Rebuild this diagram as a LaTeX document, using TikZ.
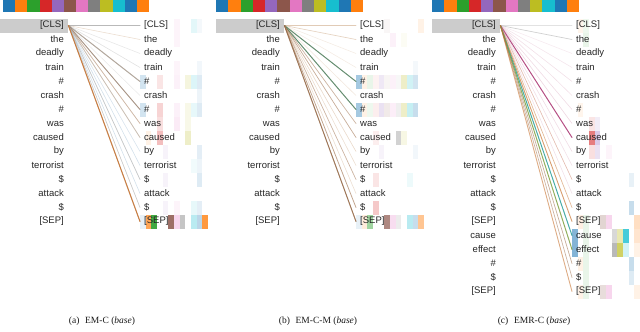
\documentclass[tikz,border=0pt]{standalone}
\usepackage{fontspec}
\setmainfont{Liberation Serif}
\setsansfont{Liberation Sans}
\definecolor{h0}{HTML}{1F77B4}
\definecolor{h1}{HTML}{FF7F0E}
\definecolor{h2}{HTML}{2CA02C}
\definecolor{h3}{HTML}{D62728}
\definecolor{h4}{HTML}{9467BD}
\definecolor{h5}{HTML}{8C564B}
\definecolor{h6}{HTML}{E377C2}
\definecolor{h7}{HTML}{7F7F7F}
\definecolor{h8}{HTML}{BCBD22}
\definecolor{h9}{HTML}{17BECF}
\definecolor{h10}{HTML}{1F77B4}
\definecolor{h11}{HTML}{FF7F0E}
\definecolor{lgray}{HTML}{8A8A8A}
\definecolor{ltan}{HTML}{C8A07A}
\definecolor{lbrown}{HTML}{9A6A45}
\definecolor{lorange}{HTML}{C87533}
\definecolor{lblue}{HTML}{8FB0CC}
\definecolor{lgreen}{HTML}{4E8060}
\definecolor{lpink}{HTML}{D49AB4}
\definecolor{lmag}{HTML}{A8306E}
\definecolor{lteal}{HTML}{2A9E98}
\definecolor{lolive}{HTML}{7FA040}
\tikzset{
  tokfont/.style={font=\sffamily\fontsize{9.5}{10}\selectfont, text=black!85},
  tokL/.style={tokfont, anchor=east, inner sep=0pt},
  tokR/.style={tokfont, anchor=west, inner xsep=4pt, inner ysep=0pt},
  hlbox/.style={fill=black!20, draw=none, minimum width=68pt, minimum height=14pt, inner sep=0pt, anchor=west},
  att/.style={line cap=round},
  headsq/.style={draw=none},
  capt/.style={font=\fontsize{9.5}{11}\selectfont, text=black!90}
}
\newcommand{\headbar}[1]{%
  \foreach \c in {0,...,11} \fill[fill=h\c] ({#1+12.25*\c},0) rectangle ++(12.25,12);}
\newcommand{\tokpanel}[2]{%
  \foreach \t [count=\i from 0] in {#2} {
    \node[tokL] (#1L\i) at (64,{25.5+14*\i}) {\t};
    \node[tokR] (#1R\i) at (140,{25.5+14*\i}) {\t};
  }}
\begin{document}
\begin{tikzpicture}[x=1pt,y=-1pt]
\useasboundingbox (0,0) rectangle (640,332);
% ---------------- panel (a)
\begin{scope}
  \foreach \c in {0,...,11} \fill[fill=h\c] ({3+12.17*\c},0) rectangle ++(12.17,12);
  \node[hlbox] (aH) at (0,25.5) {};
  \foreach \r/\c/\o in {0/6/.08,0/9/.12,0/10/.05,1/6/.08,3/6/.08,3/10/.06,
     4/0/.2,4/3/.12,4/6/.1,4/8/.15,4/9/.15,4/10/.15,5/10/.08,
     6/0/.2,6/3/.2,6/6/.1,6/8/.1,6/9/.1,6/10/.15,7/3/.15,7/6/.15,7/8/.1,
     8/1/.1,8/3/.3,8/8/.25,9/4/.08,9/10/.12,10/9/.06,10/10/.08,11/4/.08,11/10/.15,
     13/4/.08,13/6/.08,13/9/.1,13/10/.12,
     14/0/.1,14/1/.7,14/2/.9,14/5/.85,14/6/.3,14/7/.45,14/9/.3,14/10/.3,14/11/.8}
     \fill[fill=h\c, fill opacity=\o] ({140+5.67*\c},{18.5+14*\r}) rectangle ++(5.67,14);
  \tokpanel{a}{{[CLS]},the,deadly,train,\#,crash,\#,was,caused,by,terrorist,\$,attack,\$,{[SEP]}}
  \foreach \r/\col/\o/\w in {0/lgray/.6/1.0,1/ltan/.35/.6,2/lgray/.2/.6,3/lgray/.25/.6,
     4/lgray/.7/1.0,4/ltan/.4/.6,5/lgray/.2/.5,6/lgray/.6/.9,6/lbrown/.5/.7,
     7/lorange/.5/.7,7/lblue/.3/.6,8/ltan/.6/.8,8/lblue/.3/.6,9/lblue/.35/.6,
     10/lblue/.4/.6,11/lblue/.5/.7,11/ltan/.3/.6,12/lblue/.4/.6,13/lblue/.45/.6,
     13/ltan/.3/.6,14/lblue/.5/.6,14/lorange/.9/1.1}
     \draw[att, draw=\col, draw opacity=\o, line width=\w pt] (aH.east) -- (aR\r.west);
  \node[capt] (capa) at (102,321) {(a)\hspace{0.35em} EM-C (\textit{base})};
\end{scope}
% ---------------- panel (b)
\begin{scope}[xshift=216pt]
  \headbar{0}
  \node[hlbox] (bH) at (0,25.5) {};
  \foreach \r/\c/\o in {0/5/.05,0/11/.1,1/6/.1,1/8/.05,3/10/.05,
     4/0/.4,4/1/.1,4/2/.1,4/3/.06,4/4/.15,4/5/.06,4/6/.1,4/7/.06,4/8/.25,4/9/.2,4/10/.2,
     6/0/.4,6/1/.1,6/2/.08,6/3/.08,6/4/.2,6/5/.12,6/6/.12,6/7/.12,6/8/.25,6/9/.25,6/10/.25,
     8/3/.08,8/7/.35,8/8/.12,9/4/.08,9/10/.06,11/3/.12,11/9/.08,13/3/.25,
     14/0/.1,14/1/.15,14/2/.45,14/5/.7,14/6/.25,14/7/.15,14/9/.3,14/10/.25,14/11/.45}
     \fill[fill=h\c, fill opacity=\o] ({140+5.67*\c},{18.5+14*\r}) rectangle ++(5.67,14);
  \tokpanel{b}{{[CLS]},the,deadly,train,\#,crash,\#,was,caused,by,terrorist,\$,attack,\$,{[SEP]}}
  \foreach \r/\col/\o/\w in {0/ltan/.55/.9,1/ltan/.45/.7,2/ltan/.2/.6,3/ltan/.2/.6,
     4/ltan/.3/.6,4/lgreen/.85/1.0,5/ltan/.25/.6,6/ltan/.3/.6,6/lgreen/.85/1.0,
     7/lbrown/.5/.7,8/lbrown/.55/.7,9/ltan/.4/.6,10/ltan/.35/.6,11/lbrown/.5/.7,
     12/ltan/.35/.6,13/lbrown/.6/.8,14/lgray/.5/.7,14/lbrown/.85/1.0}
     \draw[att, draw=\col, draw opacity=\o, line width=\w pt] (bH.east) -- (bR\r.west);
  \node[capt] (capb) at (102,321) {(b)\hspace{0.35em} EM-C-M (\textit{base})};
\end{scope}
% ---------------- panel (c)
\begin{scope}[xshift=432pt]
  \headbar{0}
  \node[hlbox] (cH) at (0,25.5) {};
  \foreach \r/\c/\o in {0/1/.08,0/2/.08,1/2/.1,6/1/.08,7/3/.12,7/4/.12,
     8/3/.6,8/4/.35,9/3/.15,9/4/.2,9/6/.08,11/10/.1,13/10/.25,
     14/1/.12,14/2/.1,14/5/.25,14/6/.3,14/11/.25,
     15/0/.55,15/2/.1,15/7/.3,15/8/.35,15/9/.8,15/11/.2,
     16/0/.55,16/2/.1,16/7/.55,16/8/.7,16/9/.2,16/11/.1,
     17/1/.1,17/2/.1,17/10/.25,18/2/.1,18/10/.15,
     19/1/.1,19/2/.1,19/5/.2,19/6/.3,19/11/.1}
     \fill[fill=h\c, fill opacity=\o] ({140+5.67*\c},{18.5+14*\r}) rectangle ++(5.67,14);
  \tokpanel{c}{{[CLS]},the,deadly,train,\#,crash,\#,was,caused,by,terrorist,\$,attack,\$,{[SEP]},cause,effect,\#,\$,{[SEP]}}
  \foreach \r/\col/\o/\w in {0/lgray/.25/.6,1/lgray/.4/.7,2/lpink/.2/.6,3/lpink/.25/.6,
     4/lpink/.3/.6,5/lpink/.3/.6,6/lpink/.35/.6,7/lpink/.4/.6,8/lmag/.85/1.0,
     9/lpink/.35/.6,10/lpink/.3/.6,11/lpink/.35/.6,11/lorange/.3/.6,12/lpink/.3/.6,
     13/lorange/.5/.7,14/lorange/.7/.9,15/lteal/.85/1.0,16/lolive/.85/1.0,
     17/lbrown/.55/.7,18/lbrown/.5/.7,19/lorange/.6/.9}
     \draw[att, draw=\col, draw opacity=\o, line width=\w pt] (cH.east) -- (cR\r.west);
  \node[capt] (capc) at (102,321) {(c)\hspace{0.35em} EMR-C (\textit{base})};
\end{scope}
\end{tikzpicture}
\end{document}
